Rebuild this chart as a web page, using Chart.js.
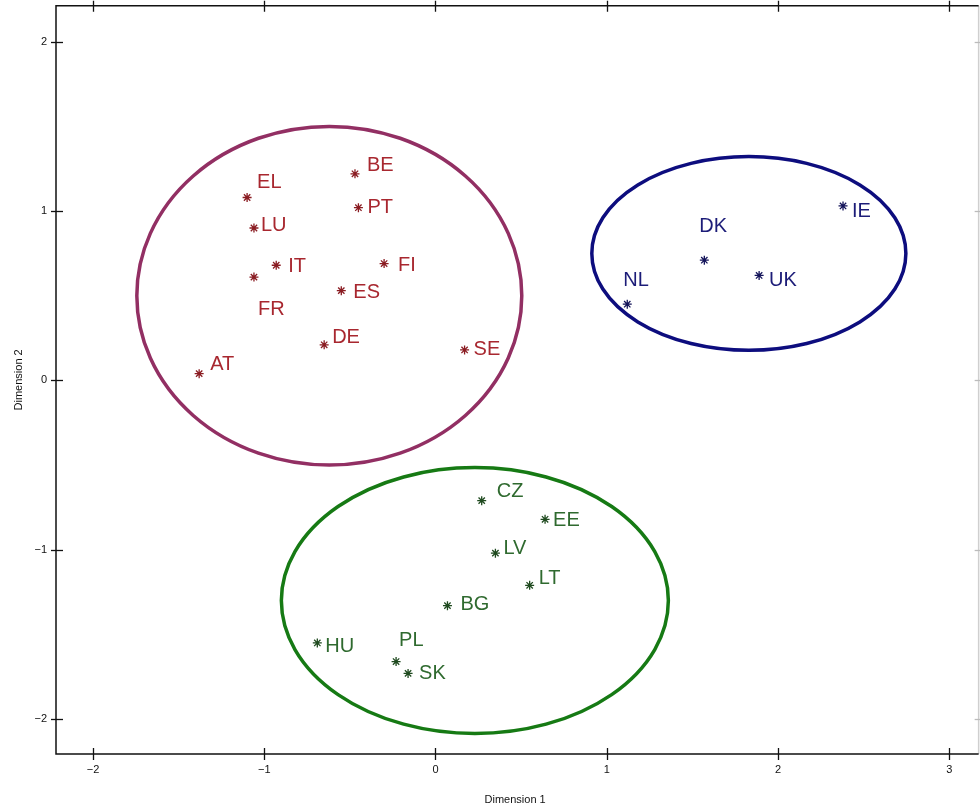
<!DOCTYPE html>
<html>
<head>
<meta charset="utf-8">
<title>Dimension 1 / Dimension 2</title>
<script src="https://cdn.jsdelivr.net/npm/chart.js@4.4.1/dist/chart.umd.min.js"></script>
<style>
  body { margin: 0; background: #fff; }
  canvas { display: block; }
</style>
</head>
<body>
<canvas id="grafico" width="980" height="807"></canvas>
<script>
// datos (coordenadas en dimension 1 / dimension 2)
var paisesRojo = ["AT", "BE", "DE", "EL", "ES", "FI", "FR", "IT", "LU", "PT", "SE"];
var xRojo = [-1.38, -0.47, -0.65, -1.10, -0.55, -0.30, -1.06, -0.93, -1.06, -0.45, 0.17];
var yRojo = [0.04, 1.22, 0.21, 1.08, 0.53, 0.69, 0.61, 0.68, 0.90, 1.02, 0.18];

var paisesAzul = ["DK", "IE", "NL", "UK"];
var xAzul = [1.57, 2.38, 1.12, 1.89];
var yAzul = [0.71, 1.03, 0.45, 0.62];

var paisesVerde = ["BG", "CZ", "EE", "HU", "LT", "LV", "PL", "SK"];
var xVerde = [0.07, 0.27, 0.64, -0.69, 0.55, 0.35, -0.23, -0.16];
var yVerde = [-1.33, -0.71, -0.82, -1.55, -1.21, -1.02, -1.66, -1.73];

var ticksX = [-2, -1, 0, 1, 2, 3];
var ticksY = [-2, -1, 0, 1, 2];
var bordeDerecho = 3.172; // el marco sigue un poco mas alla del area

// grupos: centro y radios de cada elipse
var gruposCx = [-0.62, 1.83, 0.23];
var gruposCy = [0.50, 0.75, -1.30];
var gruposRx = [1.124, 0.917, 1.13];
var gruposRy = [1.0, 0.572, 0.785];
var gruposColor = ["#922f63", "#0d0d7e", "#167a14"];

// desplazamiento de las etiquetas respecto al asterisco (px)
var despl = {
    BE: [12, -8], EL: [10, -15], FR: [4, 32], AT: [11, -9], DE: [8, -7], LU: [7, -3],
    IT: [12, 1], FI: [14, 2], ES: [12, 2], PT: [9, 0], SE: [9, 0],
    DK: [-5, -34], NL: [-4, -24], IE: [9, 6], UK: [10, 5],
    CZ: [15, -9], LT: [9, -7], LV: [8, -5], PL: [3, -21], BG: [13, -1], HU: [8, 4], EE: [8, 1], SK: [11, 0]
};

function armarPuntos(xs, ys, nombres) {
    var p = [];
    for (var i = 0; i < xs.length; i++) {
        p.push({ x: xs[i], y: ys[i], nombre: nombres[i] });
    }
    return p;
}

function menos(v) {
    return v < 0 ? "\u2212" + Math.abs(v) : "" + v;
}

var elipses = {
    id: "elipses",
    beforeDatasetsDraw: function (chart) {
        var ctx = chart.ctx, sx = chart.scales.x, sy = chart.scales.y;
        ctx.save();
        ctx.lineWidth = 3.5;
        for (var i = 0; i < gruposCx.length; i++) {
            var cx = sx.getPixelForValue(gruposCx[i]);
            var cy = sy.getPixelForValue(gruposCy[i]);
            var rx = Math.abs(sx.getPixelForValue(gruposCx[i] + gruposRx[i]) - cx);
            var ry = Math.abs(sy.getPixelForValue(gruposCy[i] + gruposRy[i]) - cy);
            ctx.strokeStyle = gruposColor[i];
            ctx.beginPath();
            ctx.ellipse(cx, cy, rx, ry, 0, 0, Math.PI * 2);
            ctx.stroke();
        }
        ctx.restore();
    }
};

var marco = {
    id: "marco",
    afterDraw: function (chart) {
        var ctx = chart.ctx, a = chart.chartArea, sx = chart.scales.x, sy = chart.scales.y;
        var der = sx.getPixelForValue(bordeDerecho);
        ctx.save();
        ctx.lineWidth = 1.5;
        ctx.strokeStyle = "#cfcfcf";
        ctx.beginPath();
        ctx.moveTo(der, a.top);
        ctx.lineTo(der, a.bottom);
        ctx.stroke();
        ctx.strokeStyle = "#111";
        ctx.beginPath();
        ctx.moveTo(der, a.top);
        ctx.lineTo(a.left, a.top);
        ctx.lineTo(a.left, a.bottom);
        ctx.lineTo(der, a.bottom);
        ctx.stroke();
        ctx.lineWidth = 1.3;
        ticksX.forEach(function (t) {
            var px = Math.round(sx.getPixelForValue(t)) + 0.5;
            ctx.beginPath();
            ctx.moveTo(px, a.bottom - 6); ctx.lineTo(px, a.bottom + 6);
            ctx.moveTo(px, a.top - 5); ctx.lineTo(px, a.top + 6);
            ctx.stroke();
        });
        ticksY.forEach(function (t) {
            var py = Math.round(sy.getPixelForValue(t)) + 0.5;
            ctx.beginPath();
            ctx.moveTo(a.left - 5, py); ctx.lineTo(a.left + 7, py);
            ctx.stroke();
        });
        ctx.strokeStyle = "#bbb";
        ticksY.forEach(function (t) {
            var py = Math.round(sy.getPixelForValue(t)) + 0.5;
            ctx.beginPath();
            ctx.moveTo(der - 4, py); ctx.lineTo(der + 2, py);
            ctx.stroke();
        });
        ctx.restore();
    }
};

var etiquetas = {
    id: "etiquetas",
    afterDatasetsDraw: function (chart) {
        var ctx = chart.ctx;
        ctx.save();
        ctx.font = "20px 'Liberation Sans', Arial, sans-serif";
        ctx.textAlign = "left";
        ctx.textBaseline = "middle";
        chart.data.datasets.forEach(function (ds, k) {
            var meta = chart.getDatasetMeta(k);
            ctx.fillStyle = ds.colorTexto;
            meta.data.forEach(function (el, i) {
                var n = ds.data[i].nombre;
                var d = despl[n] || [9, 0];
                ctx.fillText(n, el.x + d[0], el.y + d[1]);
            });
        });
        ctx.restore();
    }
};

var ctxG = document.getElementById("grafico").getContext("2d");
var miGrafico = new Chart(ctxG, {
    type: "scatter",
    data: {
        datasets: [{
                label: "grupo 1",
                data: armarPuntos(xRojo, yRojo, paisesRojo),
                pointStyle: "star",
                radius: 4.5,
                borderWidth: 1.3,
                borderColor: "#8a1c22",
                backgroundColor: "#8a1c22",
                colorTexto: "#a8272f"
            },
            {
                label: "grupo 2",
                data: armarPuntos(xAzul, yAzul, paisesAzul),
                pointStyle: "star",
                radius: 4.5,
                borderWidth: 1.3,
                borderColor: "#14145a",
                backgroundColor: "#14145a",
                colorTexto: "#1c1c78"
            },
            {
                label: "grupo 3",
                data: armarPuntos(xVerde, yVerde, paisesVerde),
                pointStyle: "star",
                radius: 4.5,
                borderWidth: 1.3,
                borderColor: "#1f4a1f",
                backgroundColor: "#1f4a1f",
                colorTexto: "#2f6a2f"
            }
        ]
    },
    options: {
        responsive: false,
        animation: false,
        layout: { padding: { top: 5, right: 2, left: 0, bottom: 0 } },
        plugins: {
            legend: { display: false },
            tooltip: { enabled: false }
        },
        scales: {
            x: {
                type: "linear",
                min: -2.216,
                max: 3.146,
                afterFit: function (s) {
                    s.height = 53;
                    s.paddingLeft = 0;
                    s.paddingRight = 0;
                },
                afterBuildTicks: function (s) { s.ticks = ticksX.map(function (v) { return { value: v }; }); },
                grid: { display: false, drawTicks: false },
                border: { display: false },
                ticks: {
                    padding: 9,
                    color: "#111",
                    font: { family: "'Liberation Sans', Arial, sans-serif", size: 11 },
                    callback: menos
                },
                title: {
                    display: true,
                    text: "Dimension 1",
                    color: "#111",
                    padding: 0,
                    font: { family: "'Liberation Sans', Arial, sans-serif", size: 11 }
                }
            },
            y: {
                type: "linear",
                min: -2.206,
                max: 2.212,
                afterFit: function (s) {
                    s.width = 56;
                    s.paddingTop = 0;
                    s.paddingBottom = 0;
                },
                afterBuildTicks: function (s) { s.ticks = ticksY.map(function (v) { return { value: v }; }); },
                grid: { display: false, drawTicks: false },
                border: { display: false },
                ticks: {
                    padding: 9,
                    color: "#111",
                    font: { family: "'Liberation Sans', Arial, sans-serif", size: 11 },
                    callback: menos
                },
                title: {
                    display: true,
                    text: "Dimension 2",
                    color: "#111",
                    padding: { top: 12, bottom: 0 },
                    font: { family: "'Liberation Sans', Arial, sans-serif", size: 11 }
                }
            }
        }
    },
    plugins: [elipses, etiquetas, marco]
});
</script>
</body>
</html>
